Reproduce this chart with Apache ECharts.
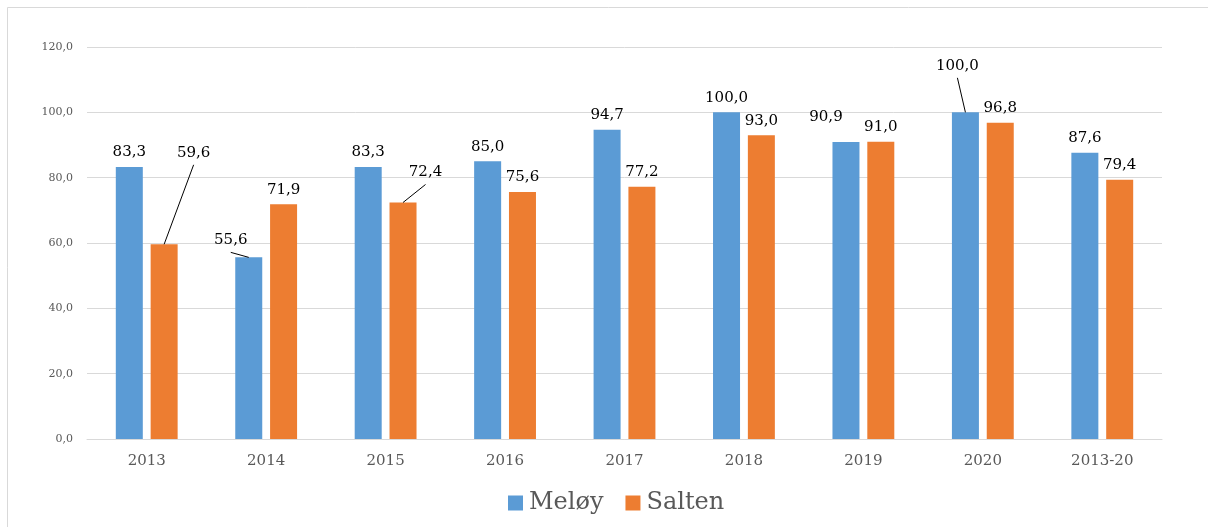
<!DOCTYPE html>
<html>
<head>
<meta charset="utf-8">
<script src="https://cdn.jsdelivr.net/npm/echarts@6/dist/echarts.min.js"></script>
<style>
html,body{margin:0;padding:0;background:#fff;}
#chart{width:1208px;height:527px;}
</style>
</head>
<body>
<div id="chart"></div>
<script>
var categories = ['2013', '2014', '2015', '2016', '2017', '2018', '2019', '2020', '2013-20'];
var meloy = [83.3, 55.6, 83.3, 85.0, 94.7, 100.0, 90.9, 100.0, 87.6];
var salten = [59.6, 71.9, 72.4, 75.6, 77.2, 93.0, 91.0, 96.8, 79.4];
var yTicks = [0, 20, 40, 60, 80, 100, 120];

// manual label placement (as in the reference): [dx, dy, hasLeaderLine]
var labelMoves = {
  0: {1: [-18, -2.5, true], 6: [-20, -10.5, false], 7: [-8, -32, true]},
  1: {0: [29.5, -77, true], 2: [22.5, -15.5, true]}
};

var FONT = 'DejaVu Serif';
var LABEL_SIZE = 15, LABEL_DIST = 7;
function fmt(v) { return Number(v).toFixed(1).replace('.', ','); }

function layoutFor(si) {
  return function (p) {
    var m = labelMoves[si][p.dataIndex];
    if (m) return {dx: m[0], dy: m[1]};
    return {};
  };
}

var labelCfg = {
  show: true,
  position: 'top',
  distance: LABEL_DIST,
  color: '#000',
  fontFamily: FONT,
  fontSize: LABEL_SIZE,
  formatter: function (p) { return fmt(p.value); }
};

var border = {
  id: 'border',
  type: 'rect',
  shape: {x: 7.5, y: 7.5, width: 1400, height: 700},
  style: {fill: 'none', stroke: '#D9D9D9', lineWidth: 1},
  silent: true,
  z: -10
};

var chart = echarts.init(document.getElementById('chart'), null, {renderer: 'canvas'});
chart.setOption({
  animation: false,
  backgroundColor: '#fff',
  graphic: [border],
  grid: {left: 87, right: 46, top: 47, bottom: 88},
  legend: {
    data: ['Meløy', 'Salten'],
    left: 503,
    top: 486,
    icon: 'rect',
    itemWidth: 15,
    itemHeight: 15,
    itemGap: 22,
    textStyle: {fontFamily: FONT, fontSize: 24, color: '#595959', padding: [0, 0, 0, 1]}
  },
  xAxis: {
    type: 'category',
    data: categories,
    axisTick: {show: false},
    axisLine: {lineStyle: {color: '#D9D9D9', width: 1}},
    axisLabel: {fontFamily: FONT, fontSize: 15, color: '#595959', margin: 15}
  },
  yAxis: {
    type: 'value',
    min: yTicks[0],
    max: yTicks[yTicks.length - 1],
    interval: 20,
    axisLine: {show: false},
    axisTick: {show: false},
    splitLine: {lineStyle: {color: '#D9D9D9', width: 1}},
    axisLabel: {fontFamily: FONT, fontSize: 11, color: '#595959', margin: 14, formatter: fmt}
  },
  series: [{
    name: 'Meløy',
    type: 'bar',
    barWidth: 27,
    barGap: '29%',
    itemStyle: {color: '#5B9BD5'},
    label: labelCfg,
    labelLayout: layoutFor(0),
    data: meloy
  }, {
    name: 'Salten',
    type: 'bar',
    barWidth: 27,
    barGap: '29%',
    itemStyle: {color: '#ED7D31'},
    label: labelCfg,
    labelLayout: layoutFor(1),
    data: salten
  }]
});

// leader lines from the moved labels to the top centre of their bars
var lines = [border];
[0, 1].forEach(function (si) {
  var data = chart.getModel().getSeriesByIndex(si).getData();
  Object.keys(labelMoves[si]).forEach(function (k) {
    var i = +k, m = labelMoves[si][i];
    if (!m[2]) return;
    var lay = data.getItemLayout(i);
    var bx = lay.x + lay.width / 2;
    var by = Math.min(lay.y, lay.y + lay.height);
    var lx = bx + m[0];
    var ly = by - LABEL_DIST - LABEL_SIZE / 2 + m[1] + 12;
    lines.push({
      type: 'line',
      silent: true,
      z: 10,
      shape: {x1: lx, y1: ly, x2: bx, y2: by},
      style: {stroke: '#000', lineWidth: 1}
    });
  });
});
chart.setOption({graphic: lines}, {replaceMerge: ['graphic']});
</script>
</body>
</html>
